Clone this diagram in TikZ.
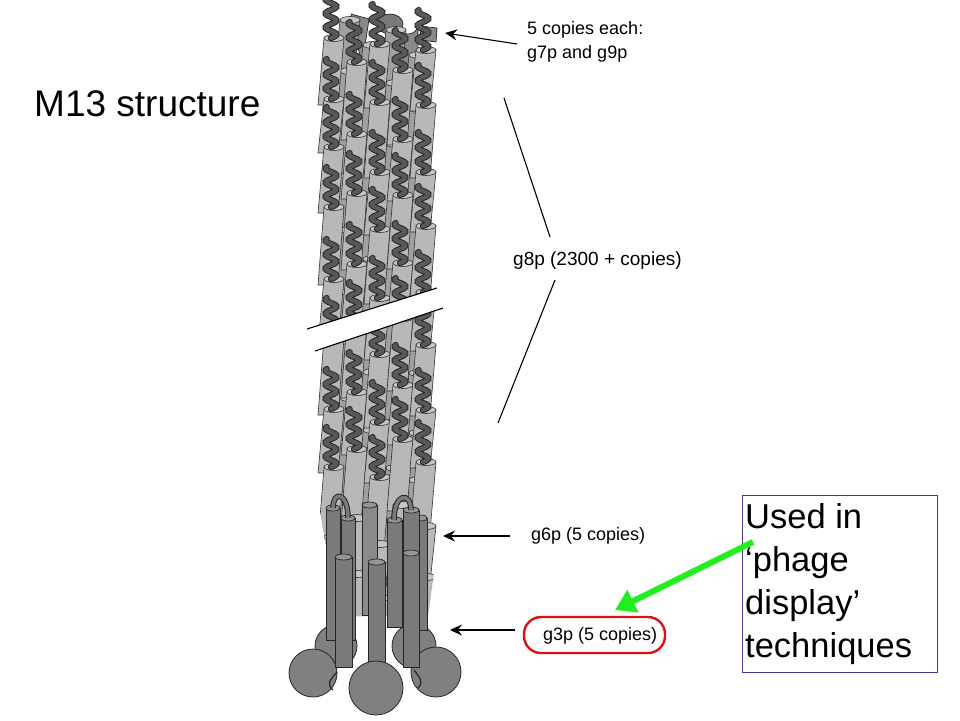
\documentclass[tikz,border=0pt]{standalone}
\usepackage{fontspec}
\setmainfont{Liberation Sans}
\usetikzlibrary{arrows.meta}
\definecolor{rodlight}{HTML}{B8B8B8}
\definecolor{rodback}{HTML}{A0A0A0}
\definecolor{caplight}{HTML}{C6C6C6}
\definecolor{sqgray}{HTML}{585858}
\definecolor{rodmid}{HTML}{8A8A8A}
\definecolor{roddark}{HTML}{7A7A7A}
\definecolor{capdark}{HTML}{959595}
\definecolor{ballgray}{HTML}{808080}
\definecolor{greenarrow}{HTML}{22EE22}
\definecolor{redbox}{HTML}{E01010}
\definecolor{bluebox}{HTML}{3A3A8A}
% light filament rod: top centre x, top y, length, fill
\newcommand{\lrod}[4]{%
  \filldraw[fill=#4,draw=black!80,line width=0.6] (#1-10,#2) -- (#1-16,#2+#3) -- (#1+4,#2+#3) -- (#1+10,#2) -- cycle;
  \filldraw[fill=caplight,draw=black!80,line width=0.6] (#1,#2) ellipse [x radius=10,y radius=3.5];}
\newcommand{\squig}[2]{%
  \draw[line width=6.2,black!85,line cap=round] plot[domain=0:40,samples=41,smooth] ({#1-3+5.5*sin(\x*25.7)},{#2-\x});
  \draw[line width=4.2,sqgray,line cap=round] plot[domain=0:40,samples=41,smooth] ({#1-3+5.5*sin(\x*25.7)},{#2-\x});}
% dark rod: left x, top y, bottom y, width, fill
\newcommand{\drod}[5]{%
  \filldraw[fill=#5,draw=black!85,line width=0.7] (#1,#2) -- (#1,#3) -- (#1+#4,#3) -- (#1+#4,#2) -- cycle;
  \filldraw[fill=capdark,draw=black!85,line width=0.7] (#1+#4/2,#2) ellipse [x radius=#4/2,y radius=3];}
\tikzset{
  lbl/.style={text=black,inner sep=0pt},
  ptr/.style={-{Stealth[length=12,width=11,inset=4]},line width=1.1,black},
  thinline/.style={line width=1.1,black},
  ball/.style={fill=ballgray,draw=black!85,line width=0.8},
  linker/.style={line width=1.2,black!85},
}
\newcommand{\lblfont}{\fontsize{18}{24}\selectfont}
\begin{document}
\begin{tikzpicture}[x=1pt,y=-1pt]
\useasboundingbox (0,0) rectangle (960,720);
\fill[white] (0,0) rectangle (960,720);

% ---------------- phage: top dark proteins (g7p / g9p)
\filldraw[fill=rodmid,draw=black!85,line width=0.7] (351,14) -- (369,19) -- (362,66) -- cycle;
\filldraw[fill=rodmid,draw=black!85,line width=0.7] (398,66) -- (398,25) arc[start angle=180,end angle=0,x radius=10,y radius=9] -- (418,66) -- cycle;
\filldraw[fill=roddark,draw=black!85,line width=0.7] (390,24) ellipse [x radius=13,y radius=10];
\filldraw[fill=rodmid,draw=black!85,line width=0.7] (420,26) -- (437,28) -- (436,42) -- (421,40) -- cycle;

% ---------------- phage: g8p filament
\begin{scope}
\clip (314,0) -- (444,0) -- (444,500) -- (428,616) -- (338,616) -- (318,500) -- cycle;
% back layer
\foreach \cx/\st in {350/20,373/45,396/30,419/55}{
  \xdef\cury{\st}
  \foreach \k in {0,...,11}{
    \pgfmathsetmacro\len{44+mod(int(\k*29+\cx*11),21)}
    \lrod{\cx}{\cury}{\len+6}{rodback}
    \pgfmathsetmacro\ny{\cury+\len}
    \xdef\cury{\ny}
  }
}
% front layer
\foreach \cx/\st in {334/38,357/62,380/44,403/70,426/50}{
  \xdef\cury{\st}
  \foreach \k in {0,...,11}{
    \pgfmathsetmacro\len{48+mod(int(\k*37+\cx*7),25)}
    \lrod{\cx}{\cury}{\len+6}{rodlight}
    \ifdim\cury pt<480pt \squig{\cx}{\cury}\fi
    \pgfmathsetmacro\ny{\cury+\len}
    \xdef\cury{\ny}
  }
}
\end{scope}

% break in the filament
\fill[white] (307,329) -- (437,288) -- (443,308) -- (315,351) -- cycle;
\draw[line width=1.1] (307,329) -- (437,288);
\draw[line width=1.1] (315,351) -- (443,308);

% ---------------- phage: g3p heads (back)
\filldraw[ball] (336,646) circle [radius=21];
\filldraw[ball] (414,646) circle [radius=22];
\filldraw[ball] (313,673) circle [radius=24];
\filldraw[ball] (436,672) circle [radius=25];
\draw[linker] (337,672) .. controls (330,680) and (326,684) .. (333,690);
\draw[linker] (414,670) .. controls (420,678) and (424,682) .. (418,688);

% ---------------- phage: g6p rods
\drod{326}{508}{640}{14}{roddark}
\drod{341}{518}{640}{14}{roddark}
\drod{362}{505}{615}{15}{rodmid}
\drod{387}{520}{627}{15}{roddark}
\drod{417}{518}{630}{10}{roddark}
\drod{403}{510}{640}{16}{roddark}
% hooks
\draw[line width=5.5,black!85] (333,508) .. controls (333,490) and (348,492) .. (348,518);
\draw[line width=3.5,roddark] (333,508) .. controls (333,490) and (348,492) .. (348,518);
\draw[line width=5.5,black!85] (394,520) .. controls (394,492) and (411,492) .. (411,510);
\draw[line width=3.5,roddark] (394,520) .. controls (394,492) and (411,492) .. (411,510);

% ---------------- phage: g3p stems and front head
\drod{335}{557}{667}{17}{roddark}
\drod{403}{553}{667}{16}{roddark}
\drod{368}{562}{687}{17}{roddark}
\filldraw[ball] (376,688) circle [radius=27];

% ---------------- labels
\node[lbl,anchor=base west] (m13) at (34,116) {\fontsize{37}{44}\selectfont M13 structure};

\node[lbl,anchor=base west] (g79a) at (527,34) {\lblfont 5 copies each:};
\node[lbl,anchor=base west] (g79b) at (527,58) {\lblfont g7p and g9p};
\coordinate (g79tail) at (517,44);
\coordinate (g79tip) at (445,33);
\draw[ptr] (g79tail) -- (g79tip);

\node[lbl,anchor=base west] (g8p) at (513,265) {\fontsize{19}{24}\selectfont g8p (2300 + copies)};
\coordinate (g8a1) at (504,98);
\coordinate (g8a2) at (550,237);
\coordinate (g8b1) at (555,280);
\coordinate (g8b2) at (498,423);
\draw[thinline] (g8a1) -- (g8a2);
\draw[thinline] (g8b1) -- (g8b2);

\node[lbl,anchor=base west] (g6p) at (531,540) {\lblfont g6p (5 copies)};
\coordinate (g6tail) at (510,536);
\coordinate (g6tip) at (443,536);
\draw[ptr] (g6tail) -- (g6tip);

\node[lbl,anchor=base west] (g3p) at (543,640) {\lblfont g3p (5 copies)};
\draw[redbox,line width=2.4,rounded corners=17] (524,617) rectangle (665,653);
\coordinate (g3tail) at (515,630);
\coordinate (g3tip) at (450,630);
\draw[ptr] (g3tail) -- (g3tip);

\draw[bluebox,line width=1] (742,495) rectangle (937,672);
\node[anchor=north west,inner sep=0pt,align=left,font=\fontsize{34.5}{43}\selectfont] (used) at (745,503) {Used in\\‘phage\\display’\\techniques};
\coordinate (greentail) at (753,542);
\coordinate (greentip) at (615,610);
\draw[greenarrow,line width=6,-{Triangle[length=20,width=24]}] (greentail) -- (greentip);
\end{tikzpicture}
\end{document}
